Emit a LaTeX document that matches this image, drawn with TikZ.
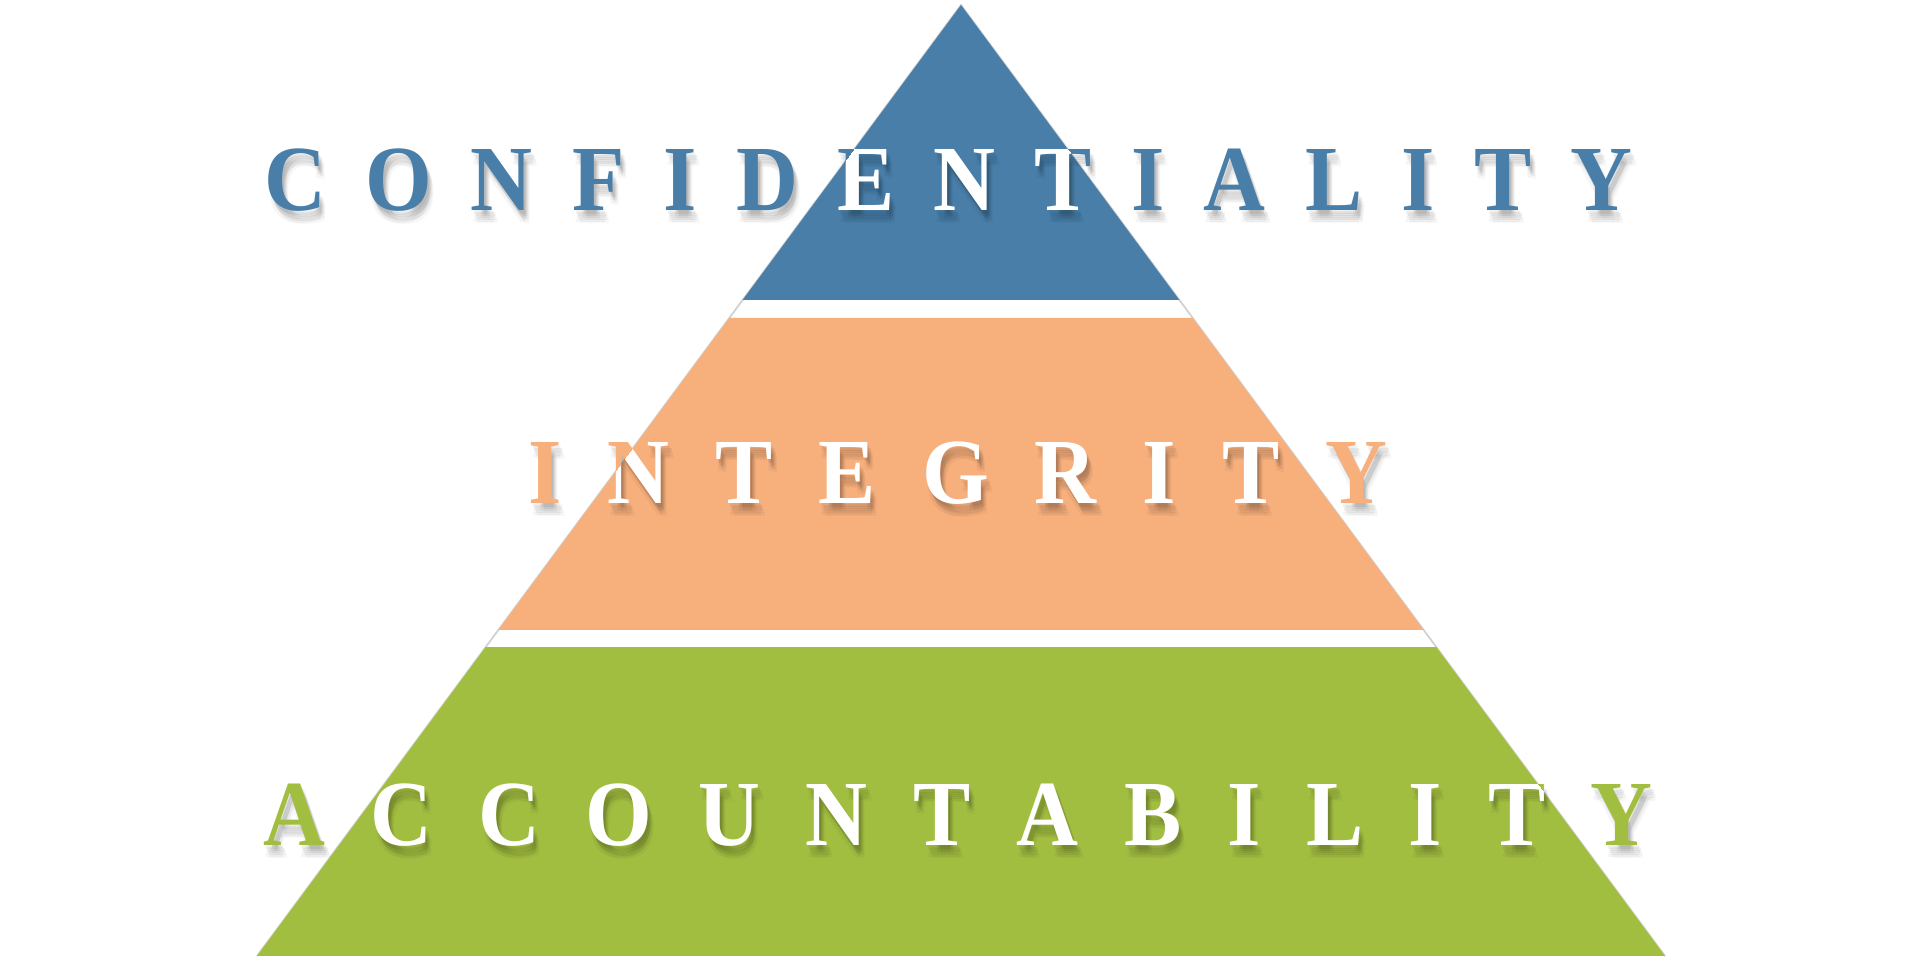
\documentclass[tikz,border=0pt]{standalone}
\usepackage{fontspec}
\setmainfont{Liberation Serif}
\newfontfamily\capfont[FakeStretch=0.92]{Liberation Serif}
\usetikzlibrary{calc}
\definecolor{tierblue}{RGB}{72,126,168}
\definecolor{tierorange}{RGB}{247,175,124}
\definecolor{tiergreen}{RGB}{162,190,65}
\newlength\lettergap
\setlength\lettergap{0.40cm}
\newcommand\lgap{\hspace{\lettergap}}
\newcommand\wordconf{\setlength\lettergap{0.392cm}C\lgap O\lgap N\lgap F\lgap I\lgap D\lgap E\lgap N\lgap T\lgap I\lgap A\lgap L\lgap I\lgap T\lgap Y}
\newcommand\wordinteg{\setlength\lettergap{0.461cm}I\lgap N\lgap T\lgap E\lgap G\lgap R\lgap I\lgap T\lgap Y}
\newcommand\wordacc{\setlength\lettergap{0.457cm}A\lgap C\lgap C\lgap O\lgap U\lgap N\lgap T\lgap A\lgap B\lgap I\lgap L\lgap I\lgap T\lgap Y}
\tikzset{
  word/.style={font=\capfont\bfseries\fontsize{26.5}{30}\selectfont, inner sep=0pt, outer sep=0pt, anchor=base west},
  wordshadow/.style={word, text=black, text opacity=#1},
}
\begin{document}
\begin{tikzpicture}[x=0.01cm,y=-0.01cm]
\useasboundingbox (0,0) rectangle (1920,962);
\fill[white] (0,0) rectangle (1920,962);
% triangle corners
\coordinate (apex) at (961,5);
\coordinate (bl) at (257,956);
\coordinate (br) at (1665,956);
% tier boundaries
\coordinate (b1l) at ($(apex)!0.3102!(bl)$);
\coordinate (b1r) at ($(apex)!0.3102!(br)$);
\coordinate (o1l) at ($(apex)!0.3291!(bl)$);
\coordinate (o1r) at ($(apex)!0.3291!(br)$);
\coordinate (o2l) at ($(apex)!0.6572!(bl)$);
\coordinate (o2r) at ($(apex)!0.6572!(br)$);
\coordinate (g1l) at ($(apex)!0.6751!(bl)$);
\coordinate (g1r) at ($(apex)!0.6751!(br)$);
% faint outline
\draw[black!18, line width=0.5pt] (bl) -- (apex) -- (br);
% tiers
\fill[tierblue] (apex) -- (b1r) -- (b1l) -- cycle;
\fill[tierorange] (o1l) -- (o1r) -- (o2r) -- (o2l) -- cycle;
\fill[tiergreen] (g1l) -- (g1r) -- (br) -- (bl) -- cycle;
% word anchors
\coordinate (cpos) at (264,211);
\coordinate (ipos) at (528,504);
\coordinate (apos) at (263,846);
% shadows
\foreach \dx/\dy/\op in {2/4/0.06,4/6/0.06,3/8/0.06,5/10/0.05,2/12/0.04,6/13/0.03}{
  \node[wordshadow=\op] (csh\dx\dy) at ([shift={(\dx,\dy)}]cpos) {\wordconf};
  \node[wordshadow=\op] (ish\dx\dy) at ([shift={(\dx,\dy)}]ipos) {\wordinteg};
  \node[wordshadow=\op] (ash\dx\dy) at ([shift={(\dx,\dy)}]apos) {\wordacc};
}
% coloured text (outside)
\node[word, text=tierblue] (conf) at (cpos) {\wordconf};
\node[word, text=tierorange] (integ) at (ipos) {\wordinteg};
\node[word, text=tiergreen] (acc) at (apos) {\wordacc};
% white text (inside)
\begin{scope}
  \clip (apex) -- (b1r) -- (b1l) -- cycle;
  \node[word, text=white] (confw) at (cpos) {\wordconf};
\end{scope}
\begin{scope}
  \clip (o1l) -- (o1r) -- (o2r) -- (o2l) -- cycle;
  \node[word, text=white] (integw) at (ipos) {\wordinteg};
\end{scope}
\begin{scope}
  \clip (g1l) -- (g1r) -- (br) -- (bl) -- cycle;
  \node[word, text=white] (accw) at (apos) {\wordacc};
\end{scope}
\end{tikzpicture}
\end{document}
